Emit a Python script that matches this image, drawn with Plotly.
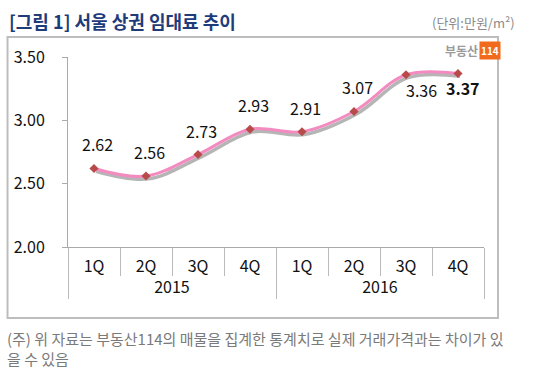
import plotly.graph_objects as go

# ---- data ----
years = ["2015"] * 4 + ["2016"] * 4
quarters = ["1Q", "2Q", "3Q", "4Q"] * 2
values = [2.62, 2.56, 2.73, 2.93, 2.91, 3.07, 3.36, 3.37]
y_ticks = [2.0, 2.5, 3.0, 3.5]

title_text = "[그림 1] 서울 상권 임대료 추이"
unit_text = "(단위:만원/m²)"
note_line1 = "(주) 위 자료는 부동산114의 매물을 집계한 통계치로 실제 거래가격과는 차이가 있"
note_line2 = "을 수 있음"

FONT = "Noto Sans CJK KR, Malgun Gothic, sans-serif"
idx = list(range(len(values)))

fig = go.Figure()

# invisible trace that builds the two-level category axis
fig.add_trace(go.Scatter(
    x=[years, quarters], y=values, mode="lines",
    line=dict(width=0), opacity=0, hoverinfo="skip", showlegend=False,
))

# shadow of the line
fig.add_trace(go.Scatter(
    x=[i + 0.04 for i in idx], y=[v - 0.022 for v in values],
    xaxis="x2", mode="lines",
    line=dict(color="rgba(120,120,120,0.55)", width=3.5, shape="spline", smoothing=1),
    hoverinfo="skip", showlegend=False,
))

# main line with markers
fig.add_trace(go.Scatter(
    x=idx, y=values, xaxis="x2", mode="lines+markers",
    line=dict(color="#f38bc0", width=3, shape="spline", smoothing=1),
    marker=dict(symbol="diamond", size=7, color="#b84a4a"),
    showlegend=False,
))

# data labels
label_style = {6: dict(xshift=15, yshift=-15, bold=False),
               7: dict(xshift=5, yshift=-15, bold=True)}
annotations = []
for i, v in zip(idx, values):
    st = label_style.get(i, dict(xshift=3, yshift=24, bold=False))
    txt = f"{v:.2f}"
    if st["bold"]:
        txt = f"<b>{txt}</b>"
    annotations.append(dict(
        x=i, y=v, xref="x2", yref="y", text=txt, showarrow=False,
        xshift=st["xshift"], yshift=st["yshift"],
        font=dict(family=FONT, size=16, color="#111"),
    ))

# title, unit, logo, footnote
annotations += [
    dict(x=-0.1466, y=1.189, xref="paper", yref="paper", xanchor="left", yanchor="middle",
         text=f"<b>{title_text}</b>", showarrow=False,
         font=dict(family=FONT, size=18, color="#1f3c7a")),
    dict(x=1.0793, y=1.184, xref="paper", yref="paper", xanchor="right", yanchor="middle",
         text=unit_text, showarrow=False,
         font=dict(family=FONT, size=13, color="#8a8a8a")),
    dict(x=0.990, y=1.0368, xref="paper", yref="paper", xanchor="right", yanchor="middle",
         text="<b>부동산</b>", showarrow=False,
         font=dict(family=FONT, size=12, color="#9a9a9a")),
    dict(x=1.0144, y=1.0368, xref="paper", yref="paper", xanchor="center", yanchor="middle",
         text="<b>114</b>", showarrow=False, bgcolor="#f26a1b", borderpad=1,
         font=dict(family=FONT, size=10, color="white")),
    dict(x=-0.1514, y=-0.484, xref="paper", yref="paper", xanchor="left", yanchor="middle",
         text=note_line1, showarrow=False,
         font=dict(family=FONT, size=15, color="#7a7a7a")),
    dict(x=-0.1514, y=-0.589, xref="paper", yref="paper", xanchor="left", yanchor="middle",
         text=note_line2, showarrow=False,
         font=dict(family=FONT, size=15, color="#7a7a7a")),
]

fig.update_layout(
    width=546, height=375,
    margin=dict(l=68, r=62, t=57, b=128),
    paper_bgcolor="white", plot_bgcolor="white",
    font=dict(family=FONT, size=15, color="#111"),
    showlegend=False,
    xaxis=dict(
        type="multicategory", range=[-0.5, 7.5],
        showline=True, linecolor="#aaaaaa", linewidth=1,
        ticks="outside", ticklen=28, tickcolor="#bbbbbb", tickson="boundaries",
        showdividers=True, dividercolor="#bbbbbb", dividerwidth=1,
        ticklabelstandoff=5,
        showgrid=False, zeroline=False,
        tickfont=dict(family=FONT, size=16, color="#111"),
    ),
    xaxis2=dict(
        overlaying="x", range=[-0.5, 7.5], visible=False,
    ),
    yaxis=dict(
        range=[2.0, 3.5], tickvals=y_ticks, tickformat=".2f",
        showline=True, linecolor="#aaaaaa", linewidth=1,
        ticks="outside", ticklen=5, tickcolor="#aaaaaa",
        ticklabelstandoff=14,
        showgrid=False, zeroline=False,
        tickfont=dict(family=FONT, size=16, color="#111"),
    ),
    shapes=[dict(type="rect", xref="paper", yref="paper",
                 x0=-0.1454, x1=1.0337, y0=-0.3737, y1=1.105,
                 line=dict(color="#bdbdbd", width=2), fillcolor="rgba(0,0,0,0)",
                 layer="below")],
    annotations=annotations,
)

fig.write_html("out.html", config={"displayModeBar": False},
               post_script="document.body.style.margin='0';")
